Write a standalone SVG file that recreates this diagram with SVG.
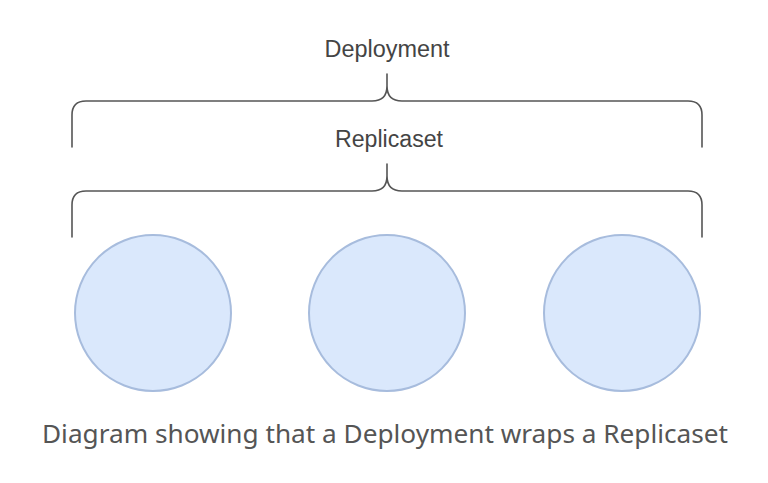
<svg xmlns="http://www.w3.org/2000/svg" width="768" height="483" viewBox="0 0 768 483">
<style>
.lbl{font-family:"Liberation Sans",Arial,sans-serif;font-size:23px;fill:#444;text-anchor:middle}
.brace{fill:none;stroke:#555;stroke-width:1.6;stroke-linecap:round}
.pod{fill:#dae8fc;stroke:#a7bcdd;stroke-width:2}
.cap{font-family:"Noto Sans","Open Sans",sans-serif;font-size:25px;fill:#555;text-anchor:middle}
</style>
<rect width="768" height="483" fill="#fff"/>
<g id="connectors">
<path class="brace" d="M72,147 V115 Q72,101 86,101 H372 Q387,101 387,86 V74 M387,86 Q387,101 402,101 H688 Q702,101 702,115 V147"/>
<path class="brace" d="M72,237 V205 Q72,191 86,191 H372 Q387,191 387,176 V164 M387,176 Q387,191 402,191 H688 Q702,191 702,205 V237"/>
</g>
<g id="deployment"><text class="lbl" x="387" y="57" textLength="125" lengthAdjust="spacingAndGlyphs">Deployment</text></g>
<g id="replicaset"><text class="lbl" x="389" y="147" textLength="108" lengthAdjust="spacingAndGlyphs">Replicaset</text></g>
<g id="pod1"><circle class="pod" cx="153" cy="313" r="78"/></g>
<g id="pod2"><circle class="pod" cx="387" cy="313" r="78"/></g>
<g id="pod3"><circle class="pod" cx="622" cy="313" r="78"/></g>
<g id="caption"><text class="cap" x="385" y="443" textLength="686" lengthAdjust="spacingAndGlyphs">Diagram showing that a Deployment wraps a Replicaset</text></g>
</svg>
